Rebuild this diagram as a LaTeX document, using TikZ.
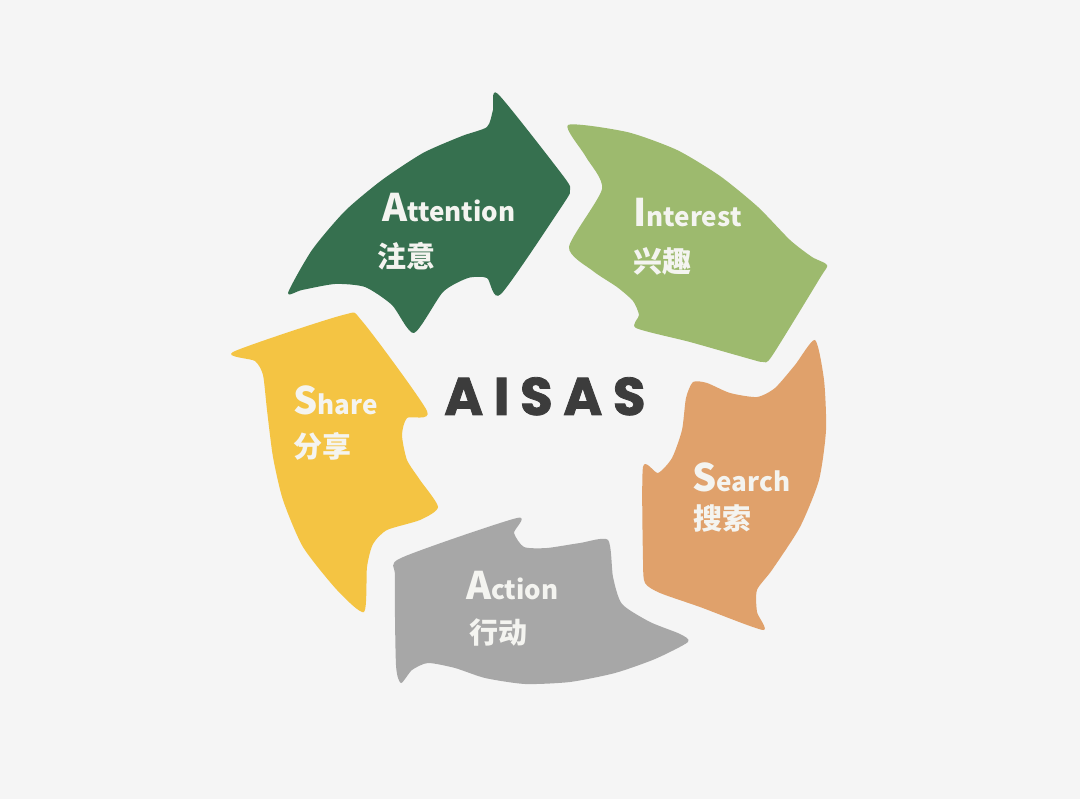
\documentclass[tikz,border=0pt]{standalone}
\usepackage{fontspec}
\usepackage{tikz}
\newfontfamily\cnfont{Noto Sans CJK SC}
\newfontfamily\titlefont{Poppins}[LetterSpace=20.0, FakeBold=1.5]

\definecolor{bgcol}{HTML}{F5F5F5}
\definecolor{attcol}{HTML}{36704F}
\definecolor{intcol}{HTML}{9DBA6E}
\definecolor{seacol}{HTML}{E0A16B}
\definecolor{actcol}{HTML}{A7A7A7}
\definecolor{shacol}{HTML}{F4C443}
\definecolor{txtcol}{HTML}{F4F4F0}
\definecolor{titcol}{HTML}{3C3C3C}

% big first letter, rest smaller
\newcommand{\capword}[2]{{\fontsize{38}{38}\selectfont #1}{\fontsize{26}{26}\selectfont #2}}

\tikzset{
  arrowpart/.style={smooth cycle, tension=0.4},
  wordlbl/.style={anchor=base west, inner sep=0pt, text=txtcol, font=\cnfont\bfseries},
  cnlbl/.style={anchor=west, inner sep=0pt, text=txtcol, font=\cnfont\bfseries\fontsize{29}{29}\selectfont},
}

\begin{document}
\begin{tikzpicture}[x=1pt,y=-1pt]
  \fill[bgcol] (0,0) rectangle (1080,799); % background
  \useasboundingbox (0,0) rectangle (1080,799);

  % Attention arrow
  \fill[attcol] plot[arrowpart] coordinates {(288,293) (312,250) (345,211) (382,180) (423,153)
    (462,136) (487,127) (493,110) (498,94) (564,177) (570,190) (564,203)
    (501,294) (487,278) (468,278) (443,292) (414,333) (392,305) (365,287) (335,284) (302,290)};
  % Interest arrow
  \fill[intcol] plot[arrowpart] coordinates {(568,125) (627,132) (677,150) (720,176) (758,207)
    (790,240) (812,257) (827,265) (820,278) (772,356) (763,362) (750,359) (690,342)
    (636,328) (639,315) (633,301) (617,287) (593,271) (569,247) (602,189) (586,157)};
  % Search arrow
  \fill[seacol] plot[arrowpart] coordinates {(815,340) (824,380) (826,430) (819,480) (800,527)
    (772,570) (757,590) (757,612) (763,630) (700,607) (660,593) (645,583) (643,560)
    (643,467) (658,473) (672,458) (682,430) (686,398) (693,382) (707,383) (730,393)
    (757,397) (775,388) (795,365)};
  % Action arrow
  \fill[actcol] plot[arrowpart] coordinates {(688,642) (655,659) (615,673) (570,682) (525,684)
    (485,678) (455,668) (428,663) (412,670) (401,683) (396,665) (395,577) (401,558)
    (517,518) (514,533) (524,547) (547,548) (580,543) (608,540) (613,577)
    (622,604) (650,622) (680,634)};
  % Share arrow
  \fill[shacol] plot[arrowpart] coordinates {(233,352) (343,315) (362,321) (427,411) (407,418)
    (402,435) (407,460) (420,480) (438,507) (420,520) (387,530) (373,544) (367,567) (364,612)
    (337,590) (303,547) (283,500) (273,457) (267,410) (263,375) (255,361)};

  % labels
  \node[wordlbl] (attn) at (382,222) {\capword{A}{ttention}};
  \node[cnlbl] (attncn) at (377,256) {注意};
  \node[wordlbl] (intr) at (633,227) {\capword{I}{nterest}};
  \node[cnlbl] (intrcn) at (633,261) {兴趣};
  \node[wordlbl] (srch) at (692,492) {\capword{S}{earch}};
  \node[cnlbl] (srchcn) at (693,518) {搜索};
  \node[wordlbl] (actn) at (466,600) {\capword{A}{ction}};
  \node[cnlbl] (actncn) at (469,632) {行动};
  \node[wordlbl] (shre) at (293,415) {\capword{S}{hare}};
  \node[cnlbl] (shrecn) at (293,446) {分享};

  \node[anchor=base west, inner sep=0pt, text=titcol, font=\titlefont\bfseries\fontsize{53}{53}\selectfont] (aisas) at (444,415) {AISAS};
\end{tikzpicture}
\end{document}
